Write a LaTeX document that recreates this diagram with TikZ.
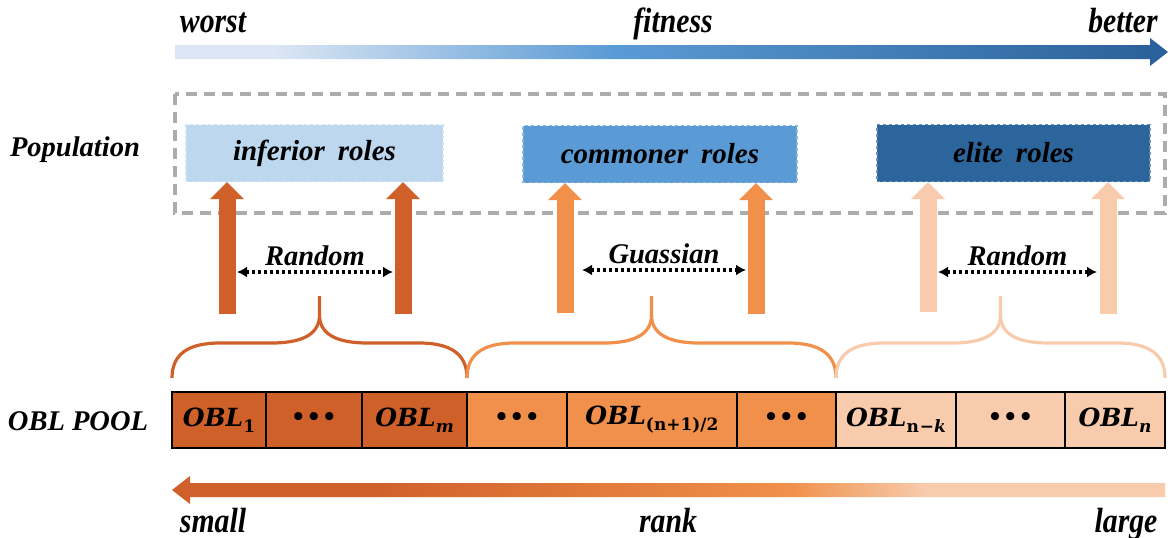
\RequirePackage{fix-cm}
\documentclass[tikz,border=0pt]{standalone}
\usepackage{fontspec}
\setmainfont{Liberation Serif}
\newfontfamily\scalefont[FakeStretch=0.85]{Liberation Serif}
\newfontfamily\oblfont{DejaVu Serif}
\usetikzlibrary{positioning,arrows.meta,calc}

\definecolor{fitlight}{HTML}{DCE6F4}
\definecolor{fitmid}{HTML}{5B9BD5}
\definecolor{fitdark}{HTML}{2A6099}
\definecolor{inferiorfill}{HTML}{BDD7EE}
\definecolor{commonerfill}{HTML}{5B9BD5}
\definecolor{elitefill}{HTML}{2B659B}
\definecolor{rankdark}{HTML}{D0602A}
\definecolor{rankmid}{HTML}{F0904A}
\definecolor{ranklight}{HTML}{F8CBAD}

% path box is mapped onto 25bp--75bp of the shading
\pgfdeclarehorizontalshading{fitshade}{100bp}{color(0bp)=(fitlight); color(25bp)=(fitlight); color(30bp)=(fitlight); color(47bp)=(fitmid); color(75bp)=(fitdark); color(100bp)=(fitdark)}
\pgfdeclarehorizontalshading{rankshade}{100bp}{color(0bp)=(rankdark); color(25bp)=(rankdark); color(35bp)=(rankdark); color(56bp)=(rankmid); color(63bp)=(ranklight); color(75bp)=(ranklight); color(100bp)=(ranklight)}

\newcommand{\obl}[1]{{\oblfont\bfseries\itshape OBL\raisebox{-6pt}{\fontsize{17}{20}\selectfont#1}}}
\newcommand{\ddd}{{\fontsize{30}{32}\selectfont\textbf{\textbullet\hspace{5pt}\textbullet\hspace{5pt}\textbullet}}}

\tikzset{
  side label/.style={font=\bfseries\itshape\fontsize{28.5}{32}\selectfont},
  scale label/.style={anchor=base,font=\scalefont\bfseries\itshape\fontsize{35}{40}\selectfont},
  role/.style={rectangle,fill=#1,draw=#1!70!white,dashed,line width=1.2pt,
    minimum height=57pt,font=\bfseries\itshape\fontsize{29}{33}\selectfont},
  pool cell/.style={rectangle,draw=black,fill=#1,line width=2.7pt,outer sep=0pt,
    minimum height=56pt,inner sep=0pt,font=\fontsize{25}{30}\selectfont},
  lift/.style={line width=17pt,-{Triangle[width=33pt,length=17pt]}},
  spread/.style={line width=3.2pt,dash pattern=on 3pt off 3pt,
    {Latex[length=10pt,width=11pt]}-{Latex[length=10pt,width=11pt]}},
  brace line/.style={line width=3.2pt},
  pop frame/.style={draw=gray!65,line width=3.2pt,dash pattern=on 11pt off 7pt}
}

% brace over a group of cells: colour, left x, right x
\newcommand{\poolbrace}[3]{%
  \pgfmathsetmacro\bracemid{(#2+#3)/2}
  \draw[brace line,#1] (#2,378) .. controls (#2,355) and (#2+15,343) .. (#2+48,343)
    -- (\bracemid-48,343) .. controls (\bracemid-15,343) and (\bracemid,333) .. (\bracemid,315)
    -- (\bracemid,296);
  \draw[brace line,#1] (\bracemid,315) .. controls (\bracemid,333) and (\bracemid+15,343) .. (\bracemid+48,343)
    -- (#3-48,343) .. controls (#3-15,343) and (#3,355) .. (#3,378);
}

\begin{document}
\begin{tikzpicture}[x=1pt,y=-1pt]
  \useasboundingbox (0,0) rectangle (1170,538);

  % fitness scale
  \shade[shading=fitshade] (175,45) -- (1150,45) -- (1150,38) -- (1168,52)
    -- (1150,66) -- (1150,59) -- (175,59) -- cycle;
  \node[scale label] (worst) at (213,32) {worst};
  \node[scale label] (fitness) at (673,32) {fitness};
  \node[scale label] (better) at (1123,32) {better};

  % population
  \node[side label] (poplab) at (75,150) {Population};
  \draw[pop frame] (175,94) rectangle (1165,213);
  \node[role=inferiorfill,minimum width=257pt] (inf) at (314.5,153) {inferior\hspace{0.45em}roles};
  \node[role=commonerfill,minimum width=274pt] (com) at (660,154) {commoner\hspace{0.45em}roles};
  \node[role=elitefill,minimum width=273pt] (eli) at (1013.5,153) {elite\hspace{0.45em}roles};

  % lifting arrows
  \coordinate (b1) at (227,314);
  \coordinate (b2) at (403,314);
  \coordinate (b3) at (565,313);
  \coordinate (b4) at (756,314);
  \coordinate (b5) at (928,312);
  \coordinate (b6) at (1108,314);
  \draw[lift,rankdark] (b1) -- (inf.south -| b1);
  \draw[lift,rankdark] (b2) -- (inf.south -| b2);
  \draw[lift,rankmid] (b3) -- (com.south -| b3);
  \draw[lift,rankmid] (b4) -- (com.south -| b4);
  \draw[lift,ranklight] (b5) -- (eli.south -| b5);
  \draw[lift,ranklight] (b6) -- (eli.south -| b6);

  % sampling ranges
  \coordinate (s1) at (237,272);
  \coordinate (s2) at (393,272);
  \coordinate (s3) at (582,270);
  \coordinate (s4) at (746,270);
  \coordinate (s5) at (938,272);
  \coordinate (s6) at (1097,272);
  \draw[spread] (s1) -- node[above=1pt,side label] {Random} (s2);
  \draw[spread] (s3) -- node[above=1pt,side label] {Guassian} (s4);
  \draw[spread] (s5) -- node[above=1pt,side label] {Random} (s6);

  % braces
  \poolbrace{rankdark}{172}{467}
  \poolbrace{rankmid}{467}{836}
  \poolbrace{ranklight}{836}{1165}

  % OBL pool
  \node[side label] (poollab) at (78,421) {OBL POOL};
  \node[pool cell=rankdark,minimum width=94pt] (c1) at (219,420) {\obl{\upshape 1}};
  \node[pool cell=rankdark,minimum width=96pt,right=0pt of c1] (c2) {\ddd};
  \node[pool cell=rankdark,minimum width=105pt,right=0pt of c2] (c3) {\obl{\itshape m}};
  \node[pool cell=rankmid,minimum width=100pt,right=0pt of c3] (c4) {\ddd};
  \node[pool cell=rankmid,minimum width=170pt,right=0pt of c4] (c5) {\obl{\upshape(n+1)/2}};
  \node[pool cell=rankmid,minimum width=99pt,right=0pt of c5] (c6) {\ddd};
  \node[pool cell=ranklight,minimum width=120pt,right=0pt of c6] (c7) {\obl{\upshape n\kern1pt\textminus\itshape k}};
  \node[pool cell=ranklight,minimum width=109pt,right=0pt of c7] (c8) {\ddd};
  \node[pool cell=ranklight,minimum width=100pt,right=0pt of c8] (c9) {\obl{\itshape n}};

  % rank scale
  \shade[shading=rankshade] (1165,483) -- (190,483) -- (190,476) -- (172,490)
    -- (190,504) -- (190,497) -- (1165,497) -- cycle;
  \node[scale label] (small) at (213,532) {small};
  \node[scale label] (rank) at (668,532) {rank};
  \node[scale label] (large) at (1126,532) {large};
\end{tikzpicture}
\end{document}
